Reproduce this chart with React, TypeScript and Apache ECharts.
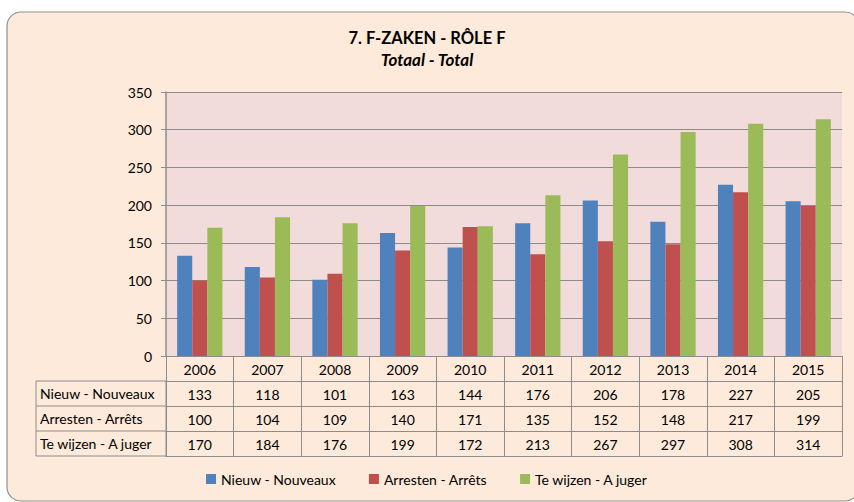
import React, { useEffect, useRef } from "react";
import * as echarts from "echarts";

const years = ["2006", "2007", "2008", "2009", "2010", "2011", "2012", "2013", "2014", "2015"];
const seriesNames = ["Nieuw - Nouveaux", "Arresten - Arrêts", "Te wijzen - A juger"];
const nieuw = [133, 118, 101, 163, 144, 176, 206, 178, 227, 205];
const arresten = [100, 104, 109, 140, 171, 135, 152, 148, 217, 199];
const teWijzen = [170, 184, 176, 199, 172, 213, 267, 297, 308, 314];
const colors = ["#4F81BD", "#C0504D", "#9BBB59"];
const titleText = "7. F-ZAKEN - RÔLE F";
const subtitleText = "Totaal - Total";

const FONT = "Lato";
const LINE = "#8C8C8C";

export default function App() {
  const ref = useRef<HTMLDivElement>(null);
  useEffect(() => {
    if (!ref.current) return;
    const chart = echarts.init(ref.current, null, { renderer: "svg" });
    const seriesData = [nieuw, arresten, teWijzen];
    const gridLeft = 166;
    const gridRight = 12;
    const gridBottomY = 356;
    const rowH = 25;

    const tableAxis = (data: string[], offset: number, showLabel: boolean, showTick: boolean) => ({
      type: "category",
      gridIndex: 0,
      position: "bottom",
      offset,
      data,
      axisLine: { show: true, lineStyle: { color: LINE, width: 1 } },
      axisTick: { show: showTick, length: rowH, interval: 0, lineStyle: { color: LINE, width: 1 } },
      axisLabel: {
        show: showLabel,
        interval: 0,
        margin: 6,
        fontSize: 14,
        fontFamily: FONT,
        color: "#000",
      },
      splitLine: { show: false },
    });

    const xAxes: any[] = [tableAxis(years, 0, true, true)];
    seriesData.forEach((arr, i) => {
      xAxes.push(tableAxis(arr.map(String), rowH * (i + 1), true, true));
    });
    xAxes.push(tableAxis(years.map(() => ""), rowH * 4, false, false));

    const graphics: any[] = [
      {
        type: "rect",
        z: -10,
        silent: true,
        shape: { x: 7, y: 12, width: 852, height: 489, r: 14 },
        style: { fill: "#FDEADA", stroke: "#8F8F8F", lineWidth: 1.2 },
      },
      {
        type: "rect",
        silent: true,
        shape: { x: 36, y: gridBottomY + rowH, width: gridLeft - 36, height: rowH * 3 },
        style: { fill: "none", stroke: LINE, lineWidth: 1 },
      },
    ];
    for (let i = 1; i < 3; i++) {
      graphics.push({
        type: "line",
        silent: true,
        shape: { x1: 36, y1: gridBottomY + rowH * (i + 1), x2: gridLeft, y2: gridBottomY + rowH * (i + 1) },
        style: { stroke: LINE, lineWidth: 1 },
      });
    }
    seriesNames.forEach((name, i) => {
      graphics.push({
        type: "text",
        silent: true,
        x: 40,
        y: gridBottomY + rowH * (i + 1) + rowH / 2,
        style: {
          text: name,
          fill: "#000",
          font: `14px ${FONT}`,
          textVerticalAlign: "middle",
          verticalAlign: "middle",
        },
      });
    });

    chart.setOption({
      animation: false,
      backgroundColor: "#FFFFFF",
      textStyle: { fontFamily: FONT },
      title: [
        {
          text: titleText,
          left: "center",
          top: 24,
          textStyle: { fontSize: 16.5, fontWeight: "bold", color: "#000", fontFamily: FONT },
        },
        {
          text: subtitleText,
          left: "center",
          top: 46,
          textStyle: { fontSize: 17, fontWeight: "bold", fontStyle: "italic", color: "#000", fontFamily: FONT },
        },
      ],
      legend: {
        bottom: 11,
        left: "center",
        itemWidth: 10,
        itemHeight: 10,
        itemGap: 33,
        icon: "rect",
        textStyle: { fontSize: 14, color: "#000", fontFamily: FONT },
        data: seriesNames,
      },
      grid: {
        left: gridLeft,
        right: gridRight,
        top: 92,
        bottom: 502 - gridBottomY,
        show: true,
        backgroundColor: "#F2DCDB",
        borderWidth: 0,
        containLabel: false,
      },
      xAxis: xAxes,
      yAxis: {
        type: "value",
        min: 0,
        max: 350,
        interval: 50,
        axisLine: { show: true, lineStyle: { color: LINE, width: 1.5 } },
        axisTick: { show: true, length: 5, lineStyle: { color: LINE } },
        axisLabel: { fontSize: 14, color: "#000", margin: 14, fontFamily: FONT },
        splitLine: { show: true, lineStyle: { color: LINE, width: 1 } },
      },
      series: seriesData.map((arr, i) => ({
        name: seriesNames[i],
        type: "bar",
        xAxisIndex: 0,
        data: arr,
        barGap: "0%",
        barCategoryGap: "33%",
        itemStyle: { color: colors[i] },
      })),
      graphic: graphics,
    });
    return () => chart.dispose();
  }, []);
  return (
    <div
      ref={ref}
      style={{ position: "absolute", left: 0, top: 0, width: 854, height: 502 }}
    />
  );
}
